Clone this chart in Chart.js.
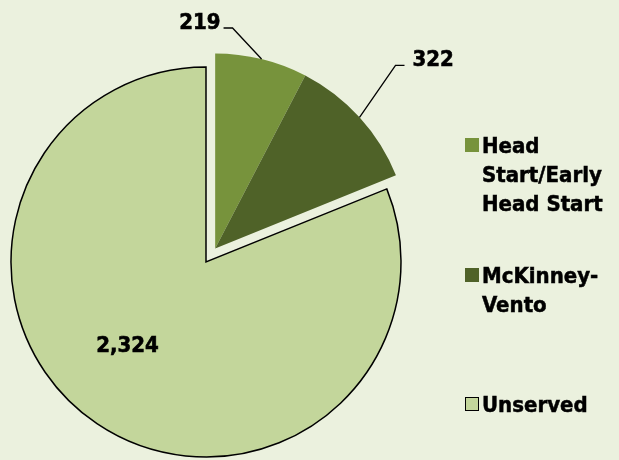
<!DOCTYPE html>
<html>
<head>
<meta charset="utf-8">
<script src="https://cdn.jsdelivr.net/npm/chart.js@4.4.0/dist/chart.umd.min.js"></script>
<style>
  body { margin: 0; background: #EBF1DE; }
  #wrap { position: relative; width: 619px; height: 460px; background: #EBF1DE; overflow: hidden; }
  #pie { position: absolute; left: 0; top: 0; }
  #legend { position: absolute; left: 465px; top: 131px; width: 150px;
            font-family: "DejaVu Sans Condensed", "DejaVu Sans", sans-serif; font-weight: bold;
            font-size: 22px; line-height: 29px; color: #000; -webkit-text-stroke: 0.5px #000; }
  .item { position: relative; height: 129.5px; }
  .box { position: absolute; left: 0; top: 7px; width: 14px; height: 14px; box-sizing: border-box; }
  .txt { position: absolute; left: 17px; top: 0; width: 132px; }
</style>
</head>
<body>
<div id="wrap">
  <canvas id="pie" width="619" height="460"></canvas>
  <div id="legend"></div>
</div>
<script>
// data
var categories = ["Head Start/Early Head Start", "McKinney-Vento", "Unserved"];
var children = [219, 322, 2324];
var valueLabels = ["219", "322", "2,324"];

// styles
var fills = ["#77933C", "#4F6228", "#C3D69B"];
var borders = ["#77933C", "#4F6228", "#000000"];
var borderWidths = [0, 0, 1.5];
var exploded = [true, true, false];
var explodeDist = 16.4;
var labelFont = 'bold 22px "DejaVu Sans Condensed", "DejaVu Sans", sans-serif';

// group offset for the exploded slices (they move together)
function groupOffset(meta) {
    var first = null, last = null;
    for (var i = 0; i < meta.data.length; i++) {
        if (exploded[i]) {
            if (first === null) first = meta.data[i];
            last = meta.data[i];
        }
    }
    if (!first) return {x: 0, y: 0};
    var mid = (first.startAngle + last.endAngle) / 2;
    return {x: Math.cos(mid) * explodeDist, y: Math.sin(mid) * explodeDist};
}

var explodePlugin = {
    id: "explodeGroup",
    beforeDatasetDraw: function(chart, args) {
        var ctx = chart.ctx;
        var meta = args.meta;
        var off = groupOffset(meta);
        meta.data.forEach(function(arc, i) {
            ctx.save();
            if (exploded[i]) ctx.translate(off.x, off.y);
            arc.draw(ctx, chart.chartArea);
            ctx.restore();
        });
        return false;
    }
};

// label placement (leader elbows relative to the slice edge)
var leaderShift = [[-29, -31], [36, -52], null];
var innerShift = [null, null, [-24, 9]];

function drawText(ctx, s, x, y) {
    ctx.fillText(s, x, y);
    ctx.strokeText(s, x, y);
}

var labelPlugin = {
    id: "valueLabels",
    afterDatasetsDraw: function(chart) {
        var ctx = chart.ctx;
        var meta = chart.getDatasetMeta(0);
        var off = groupOffset(meta);
        ctx.save();
        ctx.font = labelFont;
        ctx.fillStyle = "#000";
        ctx.strokeStyle = "#000";
        ctx.lineJoin = "miter";
        meta.data.forEach(function(arc, i) {
            var cx = arc.x + (exploded[i] ? off.x : 0);
            var cy = arc.y + (exploded[i] ? off.y : 0);
            ctx.textBaseline = "alphabetic";
            if (leaderShift[i]) {
                var mid = (arc.startAngle + arc.endAngle) / 2;
                var ex = cx + Math.cos(mid) * arc.outerRadius;
                var ey = cy + Math.sin(mid) * arc.outerRadius;
                var bx = ex + leaderShift[i][0];
                var by = ey + leaderShift[i][1];
                var dir = leaderShift[i][0] < 0 ? -1 : 1;
                var hx = bx + dir * 9;
                ctx.lineWidth = 1.3;
                ctx.beginPath();
                ctx.moveTo(ex, ey);
                ctx.lineTo(bx, by);
                ctx.lineTo(hx, by);
                ctx.stroke();
                ctx.lineWidth = 0.6;
                ctx.textAlign = dir < 0 ? "right" : "left";
                drawText(ctx, valueLabels[i], hx + dir * (dir < 0 ? 3 : 8), by + 1);
            } else {
                var p = arc.tooltipPosition();
                ctx.lineWidth = 0.6;
                ctx.textAlign = "center";
                drawText(ctx, valueLabels[i], p.x + innerShift[i][0], p.y + innerShift[i][1]);
            }
        });
        ctx.restore();
    }
};

var ctx1 = document.getElementById("pie");
var chart1 = new Chart(ctx1, {
    type: "pie",
    data: {
        labels: categories,
        datasets: [{
            data: children,
            backgroundColor: fills,
            borderColor: borders,
            borderWidth: borderWidths,
            borderJoinStyle: "miter"
        }]
    },
    options: {
        responsive: false,
        animation: false,
        events: [],
        radius: 195,
        layout: { padding: { left: 0, right: 207, top: 64, bottom: 0 } },
        plugins: {
            legend: { display: false },
            tooltip: { enabled: false }
        }
    },
    plugins: [explodePlugin, labelPlugin]
});

// legend built from the chart's own labels and colours
var legend = document.getElementById("legend");
chart1.data.labels.forEach(function(name, i) {
    var item = document.createElement("div");
    item.className = "item";
    var box = document.createElement("div");
    box.className = "box";
    box.style.background = fills[i];
    box.style.border = borderWidths[i] > 0 ? "1.5px solid " + borders[i] : "none";
    var txt = document.createElement("div");
    txt.className = "txt";
    txt.textContent = name;
    item.appendChild(box);
    item.appendChild(txt);
    legend.appendChild(item);
});
</script>
</body>
</html>
